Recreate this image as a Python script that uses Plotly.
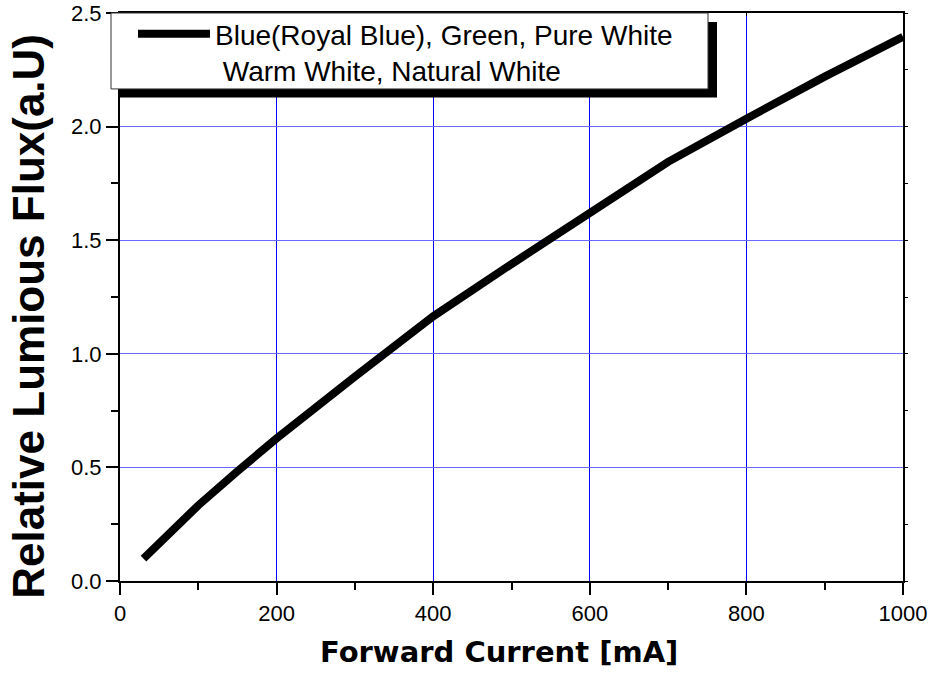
import plotly.graph_objects as go

# data
current_ma = [30, 50, 100, 150, 200, 300, 400, 500, 600, 700, 800, 900, 1000]
rel_flux = [0.098, 0.166, 0.333, 0.483, 0.628, 0.90, 1.165, 1.395, 1.62, 1.845, 2.035, 2.22, 2.395]
series_name = "Blue(Royal Blue), Green, Pure White<br>\u00a0Warm White, Natural White"
x_title = "Forward Current [mA]"
y_title = "Relative Lumious Flux(a.U)"

W, H = 932, 674
L, R, T, B = 120, 29, 13, 92.5
pw, ph = W - L - R, H - T - B

def px(xp):
    return (xp - L) / pw

def py(yp):
    return 1 - (yp - T) / ph

fig = go.Figure()
fig.add_trace(go.Scatter(
    x=current_ma, y=rel_flux, mode="lines", name=series_name,
    line=dict(color="black", width=8),
))
# invisible trace to activate mirrored top/right axes
fig.add_trace(go.Scatter(x=[None], y=[None], xaxis="x2", yaxis="y2",
                         showlegend=False, hoverinfo="skip"))

tickfont = dict(family="Liberation Sans, Arial", size=22, color="black")

fig.update_layout(
    width=W, height=H,
    margin=dict(l=L, r=R, t=T, b=B, autoexpand=False),
    paper_bgcolor="white", plot_bgcolor="white",
    showlegend=True,
    legend=dict(
        x=px(133), y=py(9), xanchor="left", yanchor="top",
        bgcolor="rgba(0,0,0,0)", borderwidth=0,
        font=dict(family="Liberation Sans, Arial", size=28, color="black"),
        itemwidth=72, valign="top",
    ),
    xaxis=dict(
        range=[0, 1000], dtick=200, tick0=0,
        showline=True, linecolor="black", linewidth=2,
        ticks="outside", ticklen=12, tickwidth=2, tickcolor="black",
        minor=dict(dtick=100, ticks="outside", ticklen=7, tickwidth=2, tickcolor="black", showgrid=False),
        showgrid=True, gridcolor="#0000ff", gridwidth=1,
        zeroline=False, tickfont=tickfont,
    ),
    yaxis=dict(
        range=[0, 2.5], dtick=0.5, tick0=0, tickformat=".1f",
        showline=True, linecolor="black", linewidth=2,
        ticks="outside", ticklen=12, tickwidth=2, tickcolor="black",
        minor=dict(dtick=0.25, ticks="outside", ticklen=7, tickwidth=2, tickcolor="black", showgrid=False),
        showgrid=True, gridcolor="#6a6aff", gridwidth=1,
        zeroline=False, tickfont=tickfont,
    ),
    xaxis2=dict(
        range=[0, 1000], dtick=200, overlaying="x", side="top", anchor="y",
        showline=True, linecolor="black", linewidth=1.5,
        ticks="inside", ticklen=3, tickwidth=1, tickcolor="black",
        showticklabels=False, showgrid=False, zeroline=False,
    ),
    yaxis2=dict(
        range=[0, 2.5], dtick=0.25, overlaying="y", side="right", anchor="x",
        showline=True, linecolor="black", linewidth=1.5,
        ticks="outside", ticklen=3, tickwidth=1, tickcolor="black",
        showticklabels=False, showgrid=False, zeroline=False,
    ),
    annotations=[
        dict(text=x_title, xref="paper", yref="paper", x=px(499), y=py(653),
             xanchor="center", yanchor="middle", showarrow=False,
             font=dict(family="DejaVu Sans", size=29, color="black", weight="bold")),
        dict(text=y_title, xref="paper", yref="paper", x=px(28.5), y=py(316.5),
             xanchor="center", yanchor="middle", showarrow=False, textangle=-90,
             font=dict(family="Liberation Sans, Arial", size=44, color="black", weight="bold")),
    ],
    shapes=[
        # legend shadow
        dict(type="rect", xref="paper", yref="paper",
             x0=px(120), x1=px(717), y0=py(97.5), y1=py(22),
             fillcolor="black", line=dict(width=0), layer="above"),
        # legend box
        dict(type="rect", xref="paper", yref="paper",
             x0=px(111), x1=px(708), y0=py(89), y1=py(13),
             fillcolor="white", line=dict(color="#333333", width=1), layer="above"),
    ],
)

fig.write_html("out.html", config={"displayModeBar": False},
               post_script="document.body.style.margin='0';document.body.style.overflow='hidden';")
